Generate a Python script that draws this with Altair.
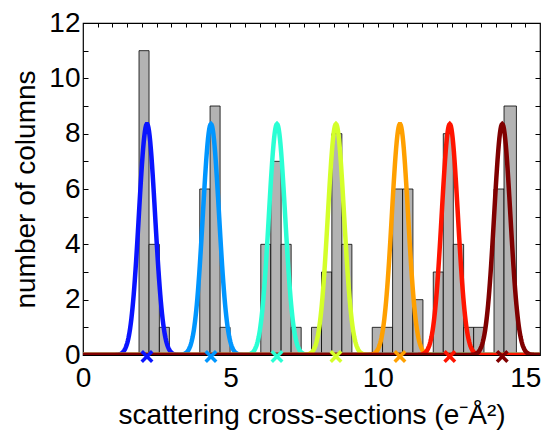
import numpy as np
import pandas as pd
import altair as alt

# Histogram of column scattering cross-sections (bin edges in e-A^2, counts)
bin_lo = [1.90, 2.24, 2.59, 3.96, 4.31, 4.65, 6.03, 6.37, 6.72, 7.06, 7.75, 8.09, 8.44,
          8.78, 9.81, 10.16, 10.50, 10.84, 11.19, 11.88, 12.22, 12.56, 12.91, 13.25,
          13.94, 14.28]
bin_hi = [2.24, 2.59, 2.93, 4.31, 4.65, 4.99, 6.37, 6.72, 7.06, 7.40, 8.09, 8.44, 8.78,
          9.12, 10.16, 10.50, 10.84, 11.19, 11.53, 12.22, 12.56, 12.91, 13.25, 13.60,
          14.28, 14.70]
bin_count = [11, 4, 1, 6, 9, 1, 4, 7, 4, 1, 1, 3, 8, 4, 1, 1, 6, 6, 2, 3, 8, 4, 1, 1, 6, 9]

# Gaussian mixture components fitted to the histogram
peak_names = ["1", "2", "3", "4", "5", "6", "7"]
peak_centers = [2.17, 4.34, 6.58, 8.58, 10.75, 12.44, 14.22]
peak_colors = ["#0a14ff", "#0096ff", "#2affd4", "#d4ff2a", "#ffa000", "#ff1400", "#800000"]
peak_height = 8.35
peak_sigma = 0.275

x_range = [0, 15.5]
y_range = [0, 12]
x_labels = [0, 5, 10, 15]
x_minor = [v / 2 for v in range(1, 31)]
y_ticks = list(range(0, 13))

FONT = "Liberation Sans"

bars = pd.DataFrame({"lo": bin_lo, "hi": bin_hi, "count": bin_count})

xs = alt.Scale(domain=x_range, nice=False, zero=False)
ys = alt.Scale(domain=y_range, nice=False, zero=False)

hist = alt.Chart(bars).mark_rect(fill="#b3b3b3", stroke="black", strokeWidth=0.8).encode(
    x=alt.X("lo:Q", scale=xs,
            axis=alt.Axis(values=x_labels, format="d", ticks=False, domain=False,
                          labelPadding=9, labelFlush=False,
                          title="scattering cross-sections (e⁻Å²)", titlePadding=9)),
    x2="hi:Q",
    y=alt.Y("count:Q", scale=ys,
            axis=alt.Axis(values=y_ticks, labelExpr="datum.value % 2 == 0 ? datum.label : ''",
                          tickSize=5, offset=-5, domain=False, labelPadding=3,
                          labelFlush=False, title="number of columns", titlePadding=8)),
    y2=alt.datum(0),
)

xgrid = np.round(np.arange(x_range[0], x_range[1] + 1e-9, 0.02), 3)

layers = [hist]
for i, (name, c, col) in enumerate(zip(peak_names, peak_centers, peak_colors)):
    curve = pd.DataFrame({
        "x": xgrid,
        "y": peak_height * np.exp(-((xgrid - c) ** 2) / (2 * peak_sigma ** 2)),
    })
    if i == 0:
        xa = alt.Axis(orient="top", values=x_minor, labels=False, domain=False,
                      tickSize=4, offset=-4, title=None)
        ya = alt.Axis(orient="right", values=y_ticks[1:-1], labels=False, domain=False,
                      tickSize=5, offset=-5, title=None)
    else:
        xa = None
        ya = None
    layers.append(
        alt.Chart(curve).mark_line(color=col, strokeWidth=4.5, clip=True).encode(
            x=alt.X("x:Q", scale=xs, axis=xa),
            y=alt.Y("y:Q", scale=ys, axis=ya),
        )
    )

centers = pd.DataFrame({"name": peak_names, "c": peak_centers, "zero": [0] * len(peak_names)})
marks = alt.Chart(centers).mark_point(
    shape="M-1,-1L1,1M-1,1L1,-1", filled=False, strokeWidth=3.5, size=110, opacity=1, yOffset=1.5
).encode(
    x=alt.X("c:Q", scale=xs, axis=None),
    y=alt.Y("zero:Q", scale=ys, axis=None),
    color=alt.Color("name:N", scale=alt.Scale(domain=peak_names, range=peak_colors), legend=None),
)
layers.append(marks)

chart = alt.layer(*layers).resolve_axis(x="independent", y="independent").properties(
    width=457, height=332,
    padding={"left": 83, "top": 23, "right": 2, "bottom": 79},
    autosize="none",
).configure_view(stroke="black", strokeWidth=1.2).configure_axis(
    grid=False, labelFont=FONT, titleFont=FONT, labelFontSize=28, titleFontSize=28,
    titleFontWeight="normal", labelColor="black", titleColor="black",
    tickColor="black", tickWidth=1,
)

chart.save("out.html", embed_options={"renderer": "svg", "actions": False})
